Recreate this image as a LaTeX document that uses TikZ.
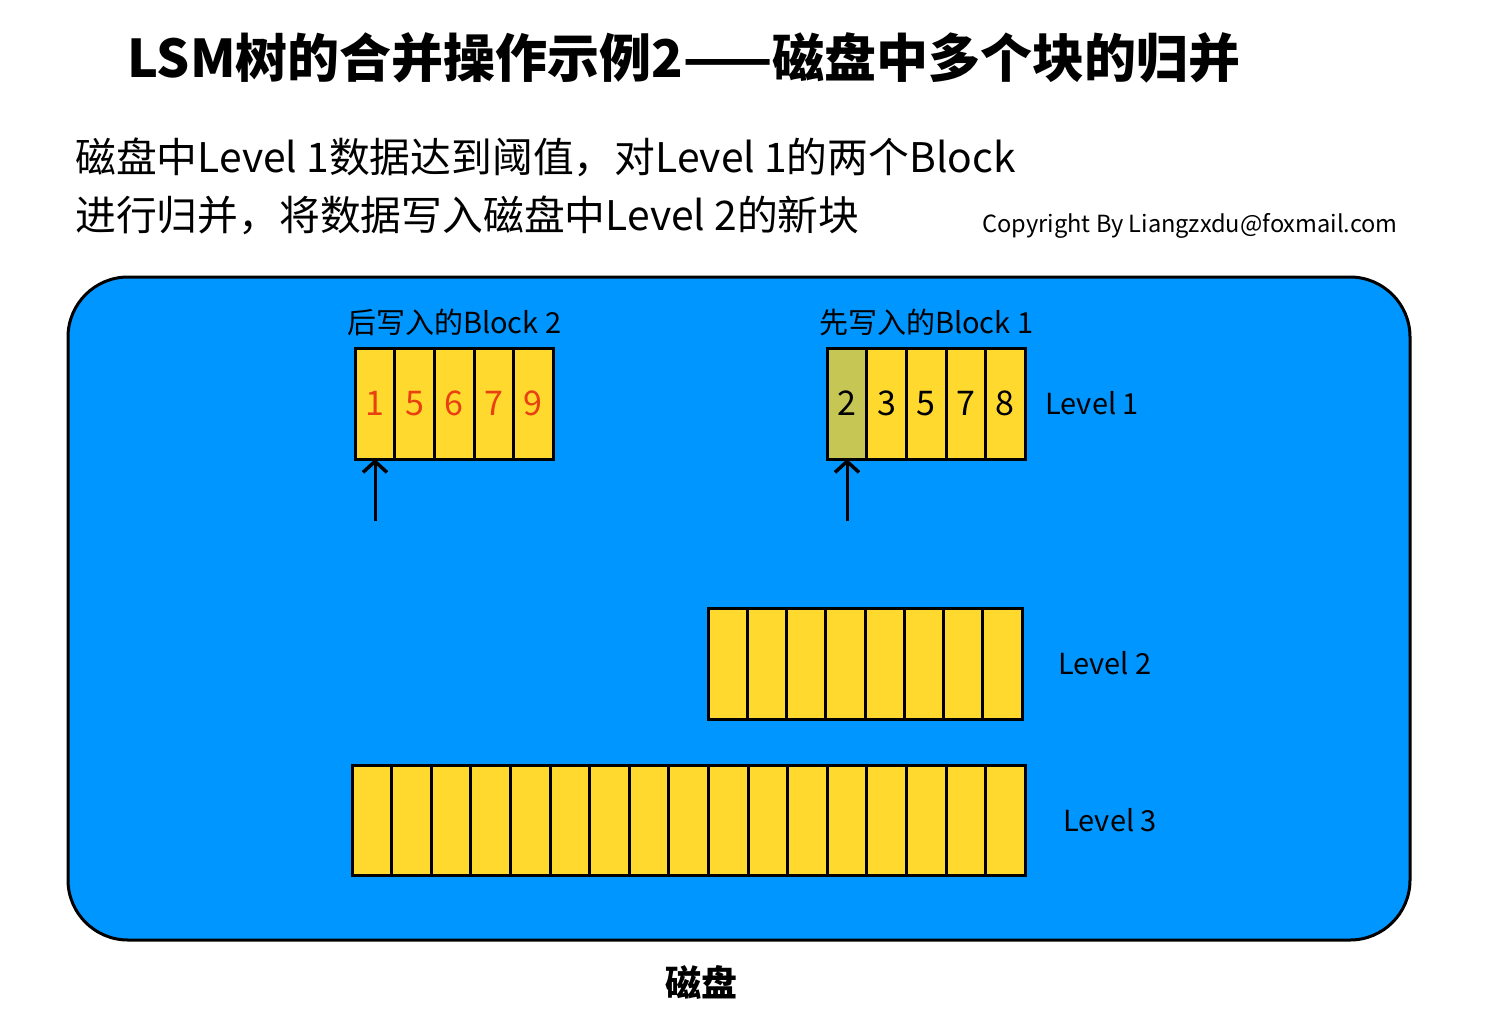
\documentclass[tikz,border=0pt]{standalone}
\usepackage{fontspec}
\setmainfont{Noto Sans CJK SC}
\usepackage{xcolor}
\usepackage{tikz}
\usetikzlibrary{arrows.meta,positioning}

\definecolor{diskblue}{RGB}{0,150,255}
\definecolor{cellyellow}{RGB}{255,217,46}
\definecolor{cellolive}{RGB}{198,198,84}
\definecolor{numred}{RGB}{232,64,16}

\begin{document}
\begin{tikzpicture}[x=1pt, y=-1pt]
    % Define styles
    \tikzset{
        disk/.style = {rectangle, rounded corners=60pt, minimum width=1342pt, minimum height=663pt, draw=black, line width=3pt, fill=diskblue},
        cell/.style = {rectangle, minimum width=39.6pt, minimum height=111pt, inner sep=0pt, outer sep=0pt, draw=black, line width=3pt, fill=cellyellow, font=\fontsize{34}{38}\selectfont},
        redcell/.style = {cell, text=numred},
        levellabel/.style = {inner sep=0pt, font=\fontsize{29}{32}\selectfont},
        blocklabel/.style = {inner sep=0pt, font=\fontsize{29}{32}\selectfont},
        pointer/.style = {-{Straight Barb[length=11pt, width=24pt, line width=3.5pt]}, line width=3pt}
    }
    \useasboundingbox (0,0) rectangle (1488,1009);

    % Title and explanation
    \node[font=\fontsize{52}{58}\selectfont\bfseries] (title) at (684,58) {LSM树的合并操作示例2——磁盘中多个块的归并};
    \node[anchor=west, inner sep=0pt, font=\fontsize{40.8}{46}\selectfont] (line1) at (75,157) {磁盘中Level 1数据达到阈值，对Level 1的两个Block};
    \node[anchor=west, inner sep=0pt, font=\fontsize{40.8}{46}\selectfont] (line2) at (75,215) {进行归并，将数据写入磁盘中Level 2的新块};
    \node[anchor=east, inner sep=0pt, font=\fontsize{23.6}{28}\selectfont] (copyright) at (1398,226) {Copyright By Liangzxdu@foxmail.com};

    % Disk
    \node[disk] (disk) at (739,608.5) {};
    \node[below=24pt of disk, xshift=-38pt, inner sep=0pt, font=\fontsize{36}{40}\selectfont\bfseries] (disklabel) {磁盘};

    % Block 2 (written later)
    \node[redcell] (b2c1) at (375,403.5) {1};
    \node[redcell, right=0pt of b2c1] (b2c2) {5};
    \node[redcell, right=0pt of b2c2] (b2c3) {6};
    \node[redcell, right=0pt of b2c3] (b2c4) {7};
    \node[redcell, right=0pt of b2c4] (b2c5) {9};
    \node[blocklabel, above=12pt of b2c3] (b2label) {后写入的Block 2};

    % Block 1 (written first)
    \node[cell, fill=cellolive] (b1c1) at (847,403.5) {2};
    \node[cell, right=0pt of b1c1] (b1c2) {3};
    \node[cell, right=0pt of b1c2] (b1c3) {5};
    \node[cell, right=0pt of b1c3] (b1c4) {7};
    \node[cell, right=0pt of b1c4] (b1c5) {8};
    \node[blocklabel, above=12pt of b1c3] (b1label) {先写入的Block 1};
    \node[levellabel, right=20pt of b1c5] (level1) {Level 1};

    % Pointers
    \coordinate (b2tail) at (375,521);
    \coordinate (b1tail) at (847,521);
    \draw[pointer] (b2tail) -- (b2c1.south);
    \draw[pointer] (b1tail) -- (b1c1.south);

    % Level 2
    \foreach \i in {1,...,8}
        \node[cell, minimum width=39.25pt] (l2c\i) at ({708+39.25*(\i-0.5)},663.5) {};
    \node[levellabel, right=36pt of l2c8] (level2) {Level 2};

    % Level 3
    \foreach \i in {1,...,17}
        \node[cell, minimum height=110pt] (l3c\i) at ({352+39.6*(\i-0.5)},820) {};
    \node[levellabel, right=38pt of l3c17] (level3) {Level 3};
\end{tikzpicture}
\end{document}
